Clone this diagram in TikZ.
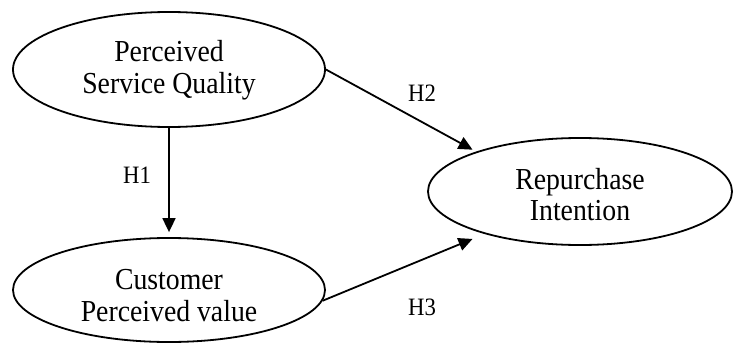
\documentclass[tikz,border=0pt]{standalone}
\usepackage{fontspec}
\setmainfont{Liberation Serif}[FakeStretch=0.91]
\usetikzlibrary{shapes.geometric,arrows.meta}

% two centred lines, lowered by #1 inside a box of unchanged size
\newcommand\twolines[3]{\raisebox{#1}[\height][\depth]{\begin{tabular}{@{}c@{}}#2\\#3\end{tabular}}}

\tikzset{
  construct/.style={draw=black, line width=1.8pt, ellipse, inner sep=0pt,
    font=\fontsize{30.5}{31.5}\selectfont},
  path arrow/.style={draw=black, line width=1.8pt,
    -{Triangle[length=14pt,width=13pt]}},
  hyp/.style={font=\fontsize{25}{27}\selectfont, inner sep=0pt}
}

\begin{document}
\begin{tikzpicture}[x=1pt, y=-1pt]
  \useasboundingbox[fill=white] (0,0) rectangle (733,345);

  % latent constructs
  \node[construct, minimum width=312pt, minimum height=115pt] (psq) at (169,69.5)
    {\twolines{-1.5pt}{Perceived}{Service Quality}};
  \node[construct, minimum width=312pt, minimum height=104pt] (cpv) at (169,290)
    {\twolines{-9pt}{Customer}{Perceived value}};
  \node[construct, minimum width=304pt, minimum height=107pt] (ri) at (580,191.5)
    {\twolines{-7pt}{Repurchase}{Intention}};

  % hypothesised paths
  \draw[path arrow, shorten >=5pt] (psq.south) -- (cpv.north);
  \draw[path arrow, shorten >=4pt] (psq.east) -- (ri.159);
  \draw[path arrow, shorten >=13pt] (cpv.-4.5) -- (ri.204);

  % path labels
  \node[hyp] (h1) at (137,175) {H1};
  \node[hyp] (h2) at (422,93) {H2};
  \node[hyp] (h3) at (422,307) {H3};
\end{tikzpicture}
\end{document}
